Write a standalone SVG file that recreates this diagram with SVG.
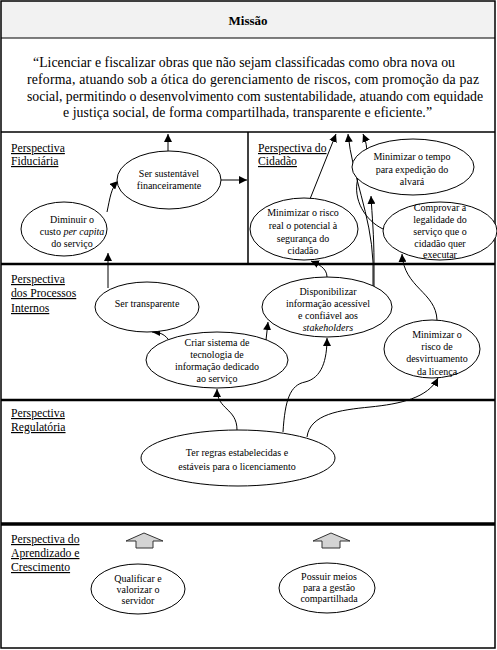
<svg xmlns="http://www.w3.org/2000/svg" width="497" height="650" viewBox="0 0 497 650">
<style>
.node ellipse{fill:#fff;stroke:#000;stroke-width:1}
.node text{font-family:"Liberation Serif","Times New Roman",serif;font-size:10px;fill:#000;text-anchor:middle}
.lbl{font-family:"Liberation Serif","Times New Roman",serif;font-size:11.7px;fill:#000;text-decoration:underline}
.mis{font-family:"Liberation Serif","Times New Roman",serif;font-size:13.8px;fill:#000;text-anchor:middle}
.conn path{fill:none;stroke:#000;stroke-width:1;marker-end:url(#ah)}
.blk{fill:#d4d4d4;stroke:#333;stroke-width:1}
.div{stroke:#000;fill:none}
</style>
<defs>
<marker id="ah" viewBox="0 0 10 10" refX="10" refY="5" markerWidth="8" markerHeight="8" markerUnits="userSpaceOnUse" orient="auto"><path d="M0,0 L10,5 L0,10 z" fill="#000"/></marker>
</defs>
<rect x="0" y="0" width="497" height="650" fill="#fff"/>
<g id="frame">
<rect x="1" y="1" width="494" height="37" fill="#f2f2f2"/>
<rect x="1" y="1" width="494" height="647" fill="none" stroke="#000" stroke-width="1.5"/>
<line class="div" x1="1" y1="38" x2="495" y2="38" stroke-width="1"/>
<line class="div" x1="1" y1="132" x2="495" y2="132" stroke-width="1.5"/>
<line class="div" x1="248" y1="132" x2="248" y2="264" stroke-width="1.5"/>
<line class="div" x1="1" y1="264" x2="495" y2="264" stroke-width="2.5"/>
<line class="div" x1="1" y1="400" x2="495" y2="400" stroke-width="2.5"/>
<line class="div" x1="1" y1="524" x2="495" y2="524" stroke-width="3.5"/>
</g>
<g id="missao">
<text x="248" y="25" font-family="Liberation Serif, Times New Roman, serif" font-size="13" font-weight="bold" text-anchor="middle">Missão</text>
<text class="mis" x="244" y="66.5" textLength="422" lengthAdjust="spacing">“Licenciar  e fiscalizar  obras que não sejam classificadas como obra nova ou</text>
<text class="mis" x="253" y="84" textLength="452" lengthAdjust="spacing">reforma,  atuando sob a ótica do gerenciamento  de riscos, com promoção  da paz</text>
<text class="mis" x="255" y="100.5" textLength="456" lengthAdjust="spacing">social, permitindo  o desenvolvimento com sustentabilidade, atuando com equidade</text>
<text class="mis" x="247.5" y="117" textLength="369" lengthAdjust="spacing">e justiça social, de forma  compartilhada,  transparente e eficiente.”</text>
</g>
<g id="labels">
<text class="lbl" x="11" y="152">Perspectiva</text>
<text class="lbl" x="11" y="165">Fiduciária</text>
<text class="lbl" x="258" y="152">Perspectiva do</text>
<text class="lbl" x="258" y="165">Cidadão</text>
<text class="lbl" x="11" y="283">Perspectiva</text>
<text class="lbl" x="11" y="297">dos Processos</text>
<text class="lbl" x="11" y="312">Internos</text>
<text class="lbl" x="11" y="417">Perspectiva</text>
<text class="lbl" x="11" y="431">Regulatória</text>
<text class="lbl" x="11" y="543">Perspectiva do</text>
<text class="lbl" x="11" y="557">Aprendizado e</text>
<text class="lbl" x="11" y="571">Crescimento</text>
</g>
<g id="connectors" class="conn">
<path d="M168,151 L168,134"/>
<path d="M221,180 L247,180"/>
<path d="M107,212 C110,198 111,188 118,181"/>
<path d="M108,288 L108,253"/>
<path d="M310,199 L336,134"/>
<path d="M373,287 L373,262 C371,215 352,175 348,134"/>
<path d="M374,287 L374,262 C374,235 372,215 371,196"/>
<path d="M383,229 C366,221 352,200 358,178 C362,165 372,155 363,134"/>
<path d="M327,277 C327,268 318,264 311,261"/>
<path d="M437,320 C436,292 404,288 402,254"/>
<path d="M168,339 C164,334 159,332 152,332"/>
<path d="M266,340 L268,322"/>
<path d="M237,430 C237,408 217,410 217,389"/>
<path d="M283,432 C285,400 290,385 305,382 C322,378 327,360 327,338"/>
<path d="M307,437 C310,414 340,410 370,407 C400,404 428,398 438,378"/>
</g>
<g id="n-sustentavel" class="node">
<ellipse cx="169" cy="180" rx="52" ry="29"/>
<text x="169" y="176.5">Ser sustentável</text>
<text x="169" y="188.5">financeiramente</text>
</g>
<g id="n-custo" class="node">
<ellipse cx="64" cy="229" rx="43" ry="27"/>
<text x="72" y="222.5">Diminuir o</text>
<text x="72" y="234.5">custo <tspan font-style="italic">per capita</tspan></text>
<text x="72" y="246.5">do serviço</text>
</g>
<g id="n-tempo" class="node">
<ellipse cx="413" cy="167" rx="61" ry="28"/>
<text x="412" y="159.5">Minimizar o tempo</text>
<text x="412" y="172.5">para expedição do</text>
<text x="412" y="184.5">alvará</text>
</g>
<g id="n-risco" class="node">
<ellipse cx="304" cy="229" rx="54" ry="31"/>
<text x="303" y="215.5">Minimizar o risco</text>
<text x="303" y="228.5">real o potencial à</text>
<text x="303" y="241.5">segurança do</text>
<text x="303" y="253.5">cidadão</text>
</g>
<g id="n-comprovar" class="node">
<ellipse cx="440" cy="231" rx="57" ry="29"/>
<text x="440" y="210.5">Comprovar a</text>
<text x="440" y="222.5">legalidade do</text>
<text x="440" y="234.5">serviço que o</text>
<text x="440" y="246.5">cidadão quer</text>
<text x="440" y="257.5">executar</text>
</g>
<g id="n-transparente" class="node">
<ellipse cx="147" cy="307" rx="52" ry="25"/>
<text x="147" y="306.5">Ser transparente</text>
</g>
<g id="n-sistema" class="node">
<ellipse cx="217" cy="360" rx="71" ry="28"/>
<text x="217" y="346">Criar sistema de</text>
<text x="217" y="358">tecnologia de</text>
<text x="217" y="370">informação  dedicado</text>
<text x="217" y="382">ao serviço</text>
</g>
<g id="n-disponibilizar" class="node">
<ellipse cx="327" cy="307" rx="65" ry="30"/>
<text x="328" y="294.5">Disponibilizar</text>
<text x="328" y="306.5">informação  acessível</text>
<text x="328" y="318.5">e confiável aos</text>
<text x="328" y="331" font-style="italic">stakeholders</text>
</g>
<g id="n-desvirtuamento" class="node">
<ellipse cx="432" cy="349" rx="48" ry="29"/>
<text x="437" y="337.5">Minimizar o</text>
<text x="437" y="349.5">risco de</text>
<text x="437" y="361.5">desvirtuamento</text>
<text x="437" y="374.5">da licença</text>
</g>
<g id="n-regras" class="node">
<ellipse cx="238" cy="458" rx="97" ry="28"/>
<text x="237" y="455.5">Ter regras estabelecidas e</text>
<text x="237" y="469.5">estáveis para o licenciamento</text>
</g>
<g id="n-qualificar" class="node">
<ellipse cx="138" cy="589" rx="47" ry="25"/>
<text x="138" y="581.5">Qualificar e</text>
<text x="138" y="592.5">valorizar o</text>
<text x="138" y="603.5">servidor</text>
</g>
<g id="n-possuir" class="node">
<ellipse cx="327" cy="588" rx="48" ry="25"/>
<text x="329" y="579.5">Possuir meios</text>
<text x="329" y="590.5">para a gestão</text>
<text x="329" y="601.5">compartilhada</text>
</g>
<g id="block-arrows">
<polygon class="blk" points="144,533 163,541 153,541 153,548 136,548 136,541 126,541"/>
<polygon class="blk" points="331,533 350,541 340,541 340,548 322,548 322,541 313,541"/>
</g>
</svg>
